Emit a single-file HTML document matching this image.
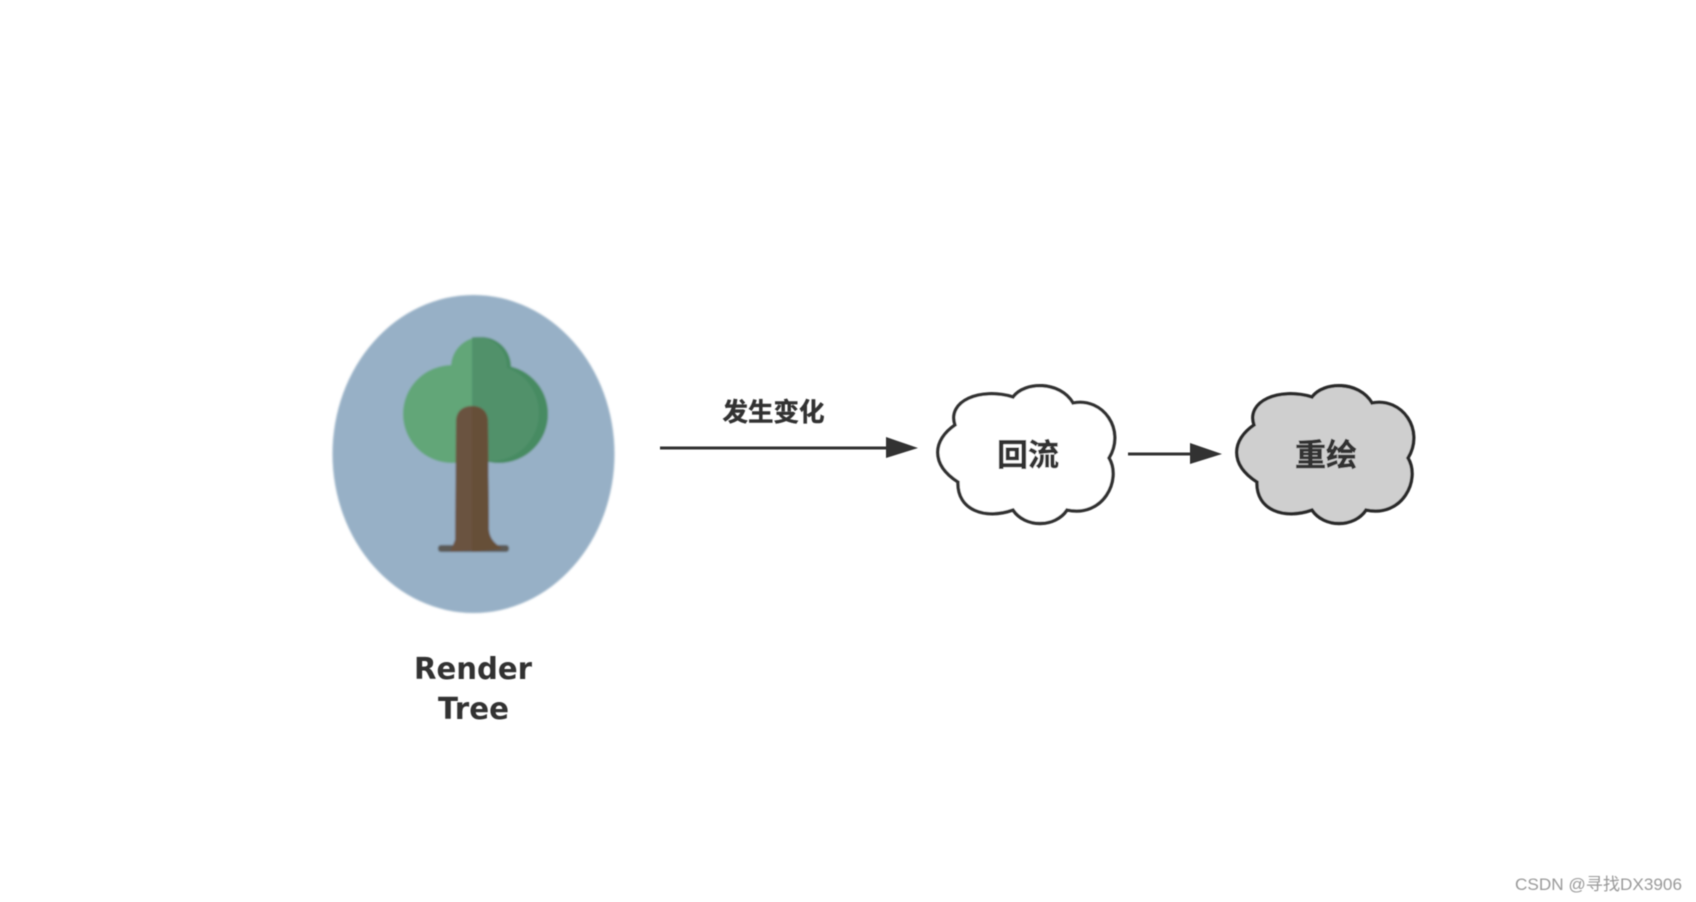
<!DOCTYPE html>
<html><head><meta charset="utf-8">
<style>html,body{margin:0;padding:0;background:#fff;width:1696px;height:902px;overflow:hidden}
svg{display:block}
text{font-family:"Liberation Sans","Noto Sans CJK SC",sans-serif}</style></head>
<body>
<svg width="1696" height="902" viewBox="0 0 1696 902" xmlns="http://www.w3.org/2000/svg">
<defs>
<filter id="b" x="-5%" y="-5%" width="110%" height="110%"><feGaussianBlur stdDeviation="1"/></filter>
<filter id="c" x="-5%" y="-5%" width="110%" height="110%"><feGaussianBlur stdDeviation="0.6"/></filter>
<clipPath id="rt"><rect x="472" y="320" width="100" height="160"/></clipPath>
</defs>
<rect width="1696" height="902" fill="#fff"/>
<g filter="url(#b)">
<ellipse cx="473.5" cy="454" rx="141" ry="159" fill="#97b0c6"/>
<g fill="#62a678">
<circle cx="452" cy="414" r="49"/><circle cx="499" cy="414" r="49"/><circle cx="481" cy="367" r="30"/>
</g>
<g clip-path="url(#rt)">
<g fill="#478b62"><circle cx="499" cy="414" r="49"/><circle cx="481" cy="367" r="30"/><rect x="472" y="370" width="30" height="60"/></g>
<g fill="#51916a"><circle cx="491" cy="413" r="48"/><circle cx="477" cy="367" r="30"/><rect x="472" y="370" width="25" height="70"/></g>
</g>
<rect x="438" y="545" width="71" height="7" rx="3" fill="#5c5a56"/>
<path d="M456 422 C456 411 463 406 472 406 C481 406 488 411 488 422 L489 530 C490 540 496 544 502 548 L450 552 L455 540 Z" fill="#6a5240"/>
<path d="M472 406 C481 406 488 411 488 422 L489 530 C490 540 496 544 502 549 L472 552 Z" fill="#665038"/>
</g>
<g filter="url(#c)">
<text x="473" y="679" font-size="30" font-weight="bold" fill="#333" text-anchor="middle" textLength="118" lengthAdjust="spacingAndGlyphs" style="font-family:'DejaVu Sans',sans-serif">Render</text>
<text x="473.500" y="719" font-size="30" font-weight="bold" fill="#333" text-anchor="middle" textLength="71" lengthAdjust="spacingAndGlyphs" style="font-family:'DejaVu Sans',sans-serif">Tree</text>

<line x1="660" y1="448" x2="888" y2="448" stroke="#333" stroke-width="3"/>
<polygon points="886,437 918,448 886,458" fill="#333"/>
<text x="773.500" y="421" font-size="25.5" font-weight="bold" fill="#333" stroke="#333" stroke-width="0.4" text-anchor="middle">发生变化</text>

<path d="M955 425 C947 401 980 387 1013 397 C1025 381 1060 381 1073 403 C1103 397 1126 430 1109 458 C1122 480 1103 518 1067 510 C1055 528 1025 528 1013 510 C985 520 957 510 958 482 C930 464 933 440 955 425 Z" fill="#fff" stroke="#333" stroke-width="3.4"/>
<text x="1028" y="466" font-size="31" font-weight="bold" fill="#333" stroke="#333" stroke-width="0.5" text-anchor="middle">回流</text>

<line x1="1128" y1="454" x2="1192" y2="454" stroke="#333" stroke-width="3"/>
<polygon points="1190,443 1222,454 1190,464" fill="#333"/>

<path transform="translate(299,0)" d="M955 425 C947 401 980 387 1013 397 C1025 381 1060 381 1073 403 C1103 397 1126 430 1109 458 C1122 480 1103 518 1067 510 C1055 528 1025 528 1013 510 C985 520 957 510 958 482 C930 464 933 440 955 425 Z" fill="#cfcfcf" stroke="#2b2b2b" stroke-width="3.4"/>
<text x="1326" y="466" font-size="31" font-weight="bold" fill="#333" stroke="#333" stroke-width="0.5" text-anchor="middle">重绘</text>

<text x="1515" y="890" font-size="17" fill="#999" textLength="167" lengthAdjust="spacingAndGlyphs">CSDN @寻找DX3906</text>
</g>
</svg>
</body></html>
